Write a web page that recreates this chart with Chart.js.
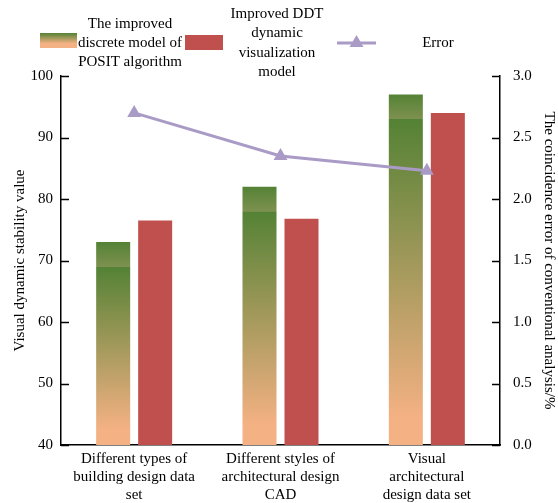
<!DOCTYPE html>
<html>
<head>
<meta charset="utf-8">
<script src="https://cdn.jsdelivr.net/npm/chart.js@4.4.0/dist/chart.umd.min.js"></script>
<style>
  html, body { margin: 0; padding: 0; background: #fff; }
</style>
</head>
<body>
<canvas id="chart" width="558" height="503"></canvas>
<script>
// categories and series
const categories = [
    ["Different types of", "building design data", "set"],
    ["Different styles of", "architectural design", "CAD"],
    ["Visual", "architectural", "design data set"]
];
const positValues = [73, 82, 97];
const ddtValues = [76.5, 76.8, 94];
const errorValues = [2.7, 2.35, 2.23];

const seriesNames = [
    ["The improved", "discrete model of", "POSIT algorithm"],
    ["Improved DDT", "dynamic", "visualization", "model"],
    ["Error"]
];

const stabilityTicks = [40, 100, 10];
const errorTicks = [0, 3, 0.5];

const FONT = "Liberation Serif";
const green = "#548235";
const peach = "#F4B183";
const red = "#C0504D";
const lavender = "#A99BC6";

function positGradient(ctx, yTop, yBottom) {
    const g = ctx.createLinearGradient(0, yBottom, 0, yTop);
    const span = yBottom - yTop;
    const band = Math.min(0.15, 25 / Math.max(span, 1));
    g.addColorStop(0, peach);
    g.addColorStop(0.08, peach);
    g.addColorStop(1 - band, green);
    g.addColorStop(1 - band + 0.001, "#7E9150");
    g.addColorStop(1, green);
    return g;
}

// inside tick marks on both value axes
const innerTicks = {
    id: "innerTicks",
    afterDraw(chart) {
        const ctx = chart.ctx;
        const area = chart.chartArea;
        ctx.save();
        ctx.strokeStyle = "#000";
        ctx.lineWidth = 1.5;
        chart.scales.y.ticks.forEach(t => {
            const y = Math.round(chart.scales.y.getPixelForValue(t.value)) + 0.5;
            ctx.beginPath();
            ctx.moveTo(area.left, y);
            ctx.lineTo(area.left + 8, y);
            ctx.stroke();
        });
        chart.scales.y1.ticks.forEach(t => {
            const y = Math.round(chart.scales.y1.getPixelForValue(t.value)) + 0.5;
            ctx.beginPath();
            ctx.moveTo(area.right - 8, y);
            ctx.lineTo(area.right, y);
            ctx.stroke();
        });
        ctx.restore();
    }
};

// legend with wrapped names, drawn above the plot
const topLegend = {
    id: "topLegend",
    afterDraw(chart) {
        const ctx = chart.ctx;
        const lh = 19.3;
        const cy = 43;
        ctx.save();
        ctx.font = "15px '" + FONT + "'";
        ctx.fillStyle = "#000";
        ctx.textAlign = "center";
        ctx.textBaseline = "middle";

        const drawText = (lines, cx) => {
            const y0 = cy - (lines.length - 1) * lh / 2;
            lines.forEach((s, i) => ctx.fillText(s, cx, y0 + i * lh));
        };

        // item 1: gradient box
        ctx.fillStyle = positGradient(ctx, 33, 48);
        const g = ctx.createLinearGradient(0, 48, 0, 33);
        g.addColorStop(0, peach);
        g.addColorStop(0.3, peach);
        g.addColorStop(1, green);
        ctx.fillStyle = g;
        ctx.fillRect(40, 33, 37, 15);
        ctx.fillStyle = "#000";
        drawText(seriesNames[0], 130);

        // item 2: red box
        ctx.fillStyle = red;
        ctx.fillRect(185, 35, 38, 15);
        ctx.fillStyle = "#000";
        drawText(seriesNames[1], 277);

        // item 3: line with triangle
        ctx.strokeStyle = lavender;
        ctx.lineWidth = 3;
        ctx.beginPath();
        ctx.moveTo(337, cy);
        ctx.lineTo(376, cy);
        ctx.stroke();
        ctx.fillStyle = lavender;
        ctx.beginPath();
        ctx.moveTo(356.5, cy - 8);
        ctx.lineTo(363.5, cy + 4);
        ctx.lineTo(349.5, cy + 4);
        ctx.closePath();
        ctx.fill();
        ctx.fillStyle = "#000";
        drawText(seriesNames[2], 438);
        ctx.restore();
    }
};

const tickFont = { family: FONT, size: 15 };

new Chart(document.getElementById("chart"), {
    type: "bar",
    data: {
        labels: categories,
        datasets: [
            {
                type: "line",
                label: seriesNames[2].join(" "),
                data: errorValues,
                yAxisID: "y1",
                borderColor: lavender,
                backgroundColor: lavender,
                borderWidth: 3,
                pointStyle: "triangle",
                pointRadius: 8,
                pointHoverRadius: 8,
                pointBackgroundColor: lavender,
                pointBorderWidth: 0,
                tension: 0,
                order: 0
            },
            {
                label: seriesNames[0].join(" "),
                data: positValues,
                yAxisID: "y",
                backgroundColor: (c) => {
                    const chart = c.chart;
                    if (!chart.chartArea || c.raw == null) return green;
                    const ys = chart.scales.y;
                    return positGradient(chart.ctx, ys.getPixelForValue(c.raw), ys.getPixelForValue(stabilityTicks[0]));
                },
                categoryPercentage: 0.574,
                barPercentage: 0.81,
                order: 1
            },
            {
                label: seriesNames[1].join(" "),
                data: ddtValues,
                yAxisID: "y",
                backgroundColor: red,
                categoryPercentage: 0.574,
                barPercentage: 0.81,
                order: 1
            }
        ]
    },
    options: {
        responsive: false,
        animation: false,
        devicePixelRatio: 1,
        layout: { padding: { top: 76, left: 0, right: 0, bottom: 0 } },
        plugins: {
            legend: { display: false },
            tooltip: { enabled: false }
        },
        scales: {
            x: {
                grid: { display: false, drawTicks: false },
                border: { display: true, color: "#000", width: 1.5 },
                ticks: { font: tickFont, color: "#000", padding: 5, maxRotation: 0, autoSkip: false },
                afterFit: (s) => { s.height = 58; }
            },
            y: {
                position: "left",
                min: stabilityTicks[0],
                max: stabilityTicks[1],
                grid: { display: false, drawTicks: false },
                border: { display: true, color: "#000", width: 1.5 },
                ticks: { stepSize: stabilityTicks[2], font: tickFont, color: "#000", padding: 8 },
                title: { display: true, text: "Visual dynamic stability value", font: tickFont, color: "#000", padding: { top: 11, bottom: 0 } },
                afterFit: (s) => { s.width = 61; }
            },
            y1: {
                position: "right",
                min: errorTicks[0],
                max: errorTicks[1],
                grid: { display: false, drawTicks: false },
                border: { display: true, color: "#000", width: 1.5 },
                ticks: { stepSize: errorTicks[2], font: tickFont, color: "#000", padding: 13, callback: (v) => v.toFixed(1) },
                title: { display: true, text: "The coincidence error of conventional analysis/%", font: tickFont, color: "#000", padding: { top: 0, bottom: 0 } },
                afterFit: (s) => { s.width = 58; }
            }
        }
    },
    plugins: [innerTicks, topLegend]
});
</script>
</body>
</html>
